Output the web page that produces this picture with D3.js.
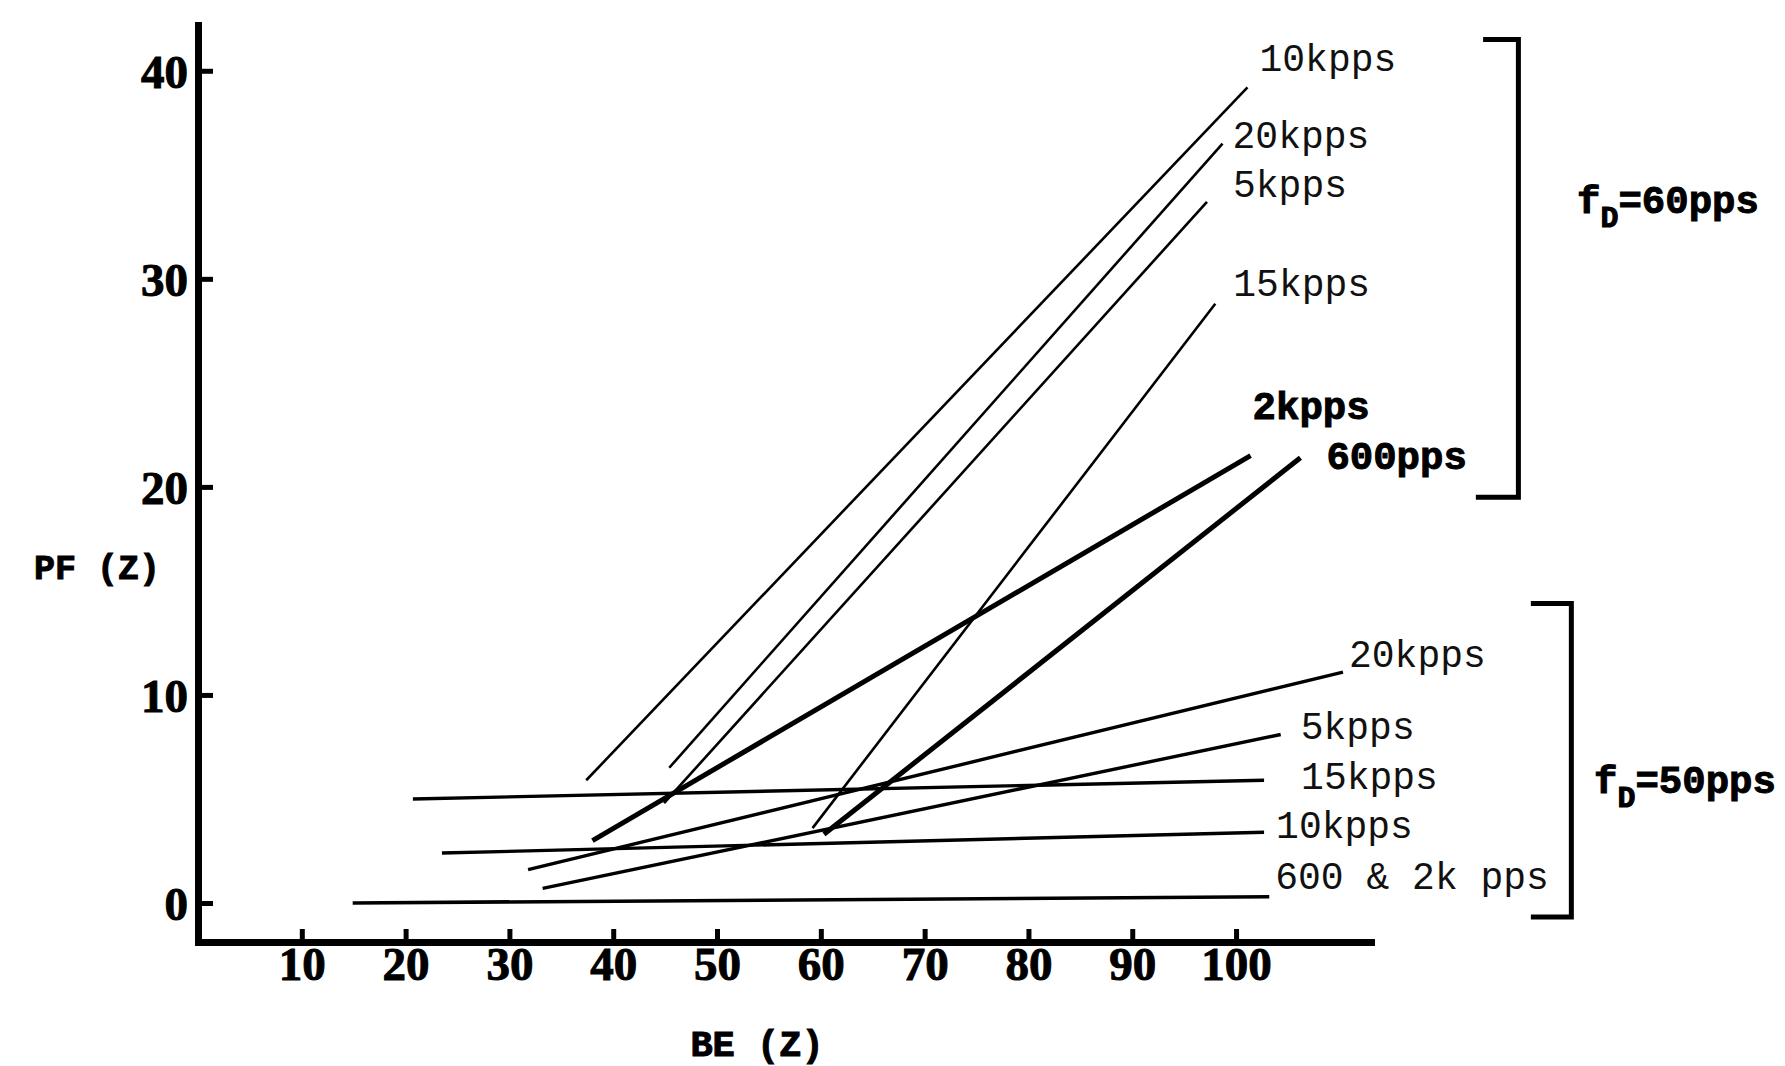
<!DOCTYPE html>
<html>
<head>
<meta charset="utf-8">
<script src="https://cdn.jsdelivr.net/npm/d3@7"></script>
<style>
  body { margin: 0; background: #fff; }
  svg { display: block; }
  .typ { font-family: "Liberation Mono", monospace; font-size: 38px; fill: #111; }
  .typb { font-family: "Liberation Mono", monospace; font-size: 39px; font-weight: bold; fill: #000; stroke: #000; stroke-width: 1px; }
  .tick text { font-family: "Liberation Serif", serif; font-weight: bold; font-size: 47px; fill: #000; stroke: #000; stroke-width: 1px; }
  .ttl { font-family: "Liberation Mono", monospace; font-weight: bold; fill: #000; stroke: #000; stroke-width: 1px; }
</style>
</head>
<body>
<svg id="chart" width="1785" height="1066"></svg>
<script>
// axis ticks
const xTicks = [10, 20, 30, 40, 50, 60, 70, 80, 90, 100];
const yTicks = [0, 10, 20, 30, 40];

// f_D = 60 pps group: BE (%) and PF (%) at the two ends of each line
const upperNames = ['10kpps', '20kpps', '5kpps', '15kpps', '2kpps', '600pps'];
const upperBE = [[37.4, 101.1], [45.4, 98.7], [44.9, 97.2], [59.2, 98.0], [38.0, 101.4], [60.3, 106.2]];
const upperPF = [[5.9, 39.2], [6.5, 36.5], [4.8, 33.7], [3.6, 28.8], [3.0, 21.5], [3.3, 21.4]];

// f_D = 50 pps group
const lowerNames = ['20kpps', '5kpps', '15kpps', '10kpps', '600 & 2k pps'];
const lowerBE = [[31.8, 110.3], [33.2, 104.3], [20.7, 102.7], [23.5, 102.7], [14.9, 103.2]];
const lowerPF = [[1.6, 11.1], [0.7, 8.1], [5.0, 5.9], [2.4, 3.4], [0.0, 0.3]];

// layout / style (kept apart from the values)
const upperWidth = [2.6, 2.6, 2.6, 2.6, 5, 5];
const upperBold = [false, false, false, false, true, true];
const upperLabelOff = [[12, -16], [10, 4], [26, -5], [18, -8], [2, -37], [26, 11]];
const lowerWidth = [3.4, 3.4, 3.4, 3.4, 3.6];
const lowerLabelOff = [[6, -5], [20, 5], [37, 9], [12, 6], [6, -8]];

const svg = d3.select('#chart');

const x = d3.scaleLinear().domain([0, 113]).range([198, 1371]);
const y = d3.scaleLinear().domain([-1.875, 42.2]).range([942, 25]);

const line = d3.line().x(d => x(d[0])).y(d => y(d[1]));

function build(names, be, pf) {
  return names.map((n, i) => ({ name: n, pts: be[i].map((b, j) => [b, pf[i][j]]) }));
}
const upper = build(upperNames, upperBE, upperPF);
const lower = build(lowerNames, lowerBE, lowerPF);

// axes
const gx = svg.append('g')
  .attr('transform', `translate(0,${y.range()[0]})`)
  .call(d3.axisBottom(x).tickValues(xTicks).tickSize(-13).tickSizeOuter(0).tickPadding(5));
const gy = svg.append('g')
  .attr('transform', `translate(${x(0)},0)`)
  .call(d3.axisLeft(y).tickValues(yTicks).tickSize(-15).tickSizeOuter(0).tickPadding(10));

[gx, gy].forEach(g => {
  g.select('.domain').attr('stroke', '#000').attr('stroke-width', 7).attr('stroke-linecap', 'square');
  g.selectAll('.tick line').attr('stroke', '#000').attr('stroke-width', 5);
});
gy.selectAll('.tick text').attr('dy', '0.36em');

// lower group (drawn first)
svg.append('g').selectAll('path')
  .data(lower)
  .join('path')
  .attr('d', d => line(d.pts))
  .attr('fill', 'none')
  .attr('stroke', '#000')
  .attr('stroke-width', (d, i) => lowerWidth[i]);

svg.append('g').selectAll('path')
  .data(upper)
  .join('path')
  .attr('d', d => line(d.pts))
  .attr('fill', 'none')
  .attr('stroke', '#000')
  .attr('stroke-width', (d, i) => upperWidth[i]);

// line labels at the upper ends
svg.append('g').selectAll('text')
  .data(upper)
  .join('text')
  .attr('class', (d, i) => upperBold[i] ? 'typb' : 'typ')
  .attr('x', (d, i) => x(d.pts[1][0]) + upperLabelOff[i][0])
  .attr('y', (d, i) => y(d.pts[1][1]) + upperLabelOff[i][1])
  .text(d => d.name);

svg.append('g').selectAll('text')
  .data(lower)
  .join('text')
  .attr('class', 'typ')
  .attr('x', (d, i) => x(d.pts[1][0]) + lowerLabelOff[i][0])
  .attr('y', (d, i) => y(d.pts[1][1]) + lowerLabelOff[i][1])
  .text(d => d.name);

// brackets for the two groups
const brackets = [
  { be: 127.2, pf: [19.5, 41.5], arm: 3.4, armBottom: 4.1, label: '60pps', lx: 1577, ly: 213 },
  { be: 132.3, pf: [-0.67, 14.4], arm: 3.9, armBottom: 3.9, label: '50pps', lx: 1594, ly: 793 }
];
brackets.forEach(b => {
  svg.append('path')
    .attr('d', `M${x(b.be - b.arm)},${y(b.pf[1])}H${x(b.be)}V${y(b.pf[0])}H${x(b.be - b.armBottom)}`)
    .attr('fill', 'none')
    .attr('stroke', '#000')
    .attr('stroke-width', 5);
  const t = svg.append('text').attr('class', 'typb').attr('x', b.lx).attr('y', b.ly).attr('font-size', 36);
  t.append('tspan').text('f');
  t.append('tspan').attr('dy', 14).attr('font-size', 30).text('D');
  t.append('tspan').attr('dy', -14).text('=' + b.label);
});

// axis titles
svg.append('text').attr('class', 'ttl').attr('x', 34).attr('y', 579)
  .attr('font-size', 35).text('PF (Z)');
svg.append('text').attr('class', 'ttl').attr('x', 757).attr('y', 1056)
  .attr('font-size', 37).attr('text-anchor', 'middle').text('BE (Z)');
</script>
</body>
</html>
